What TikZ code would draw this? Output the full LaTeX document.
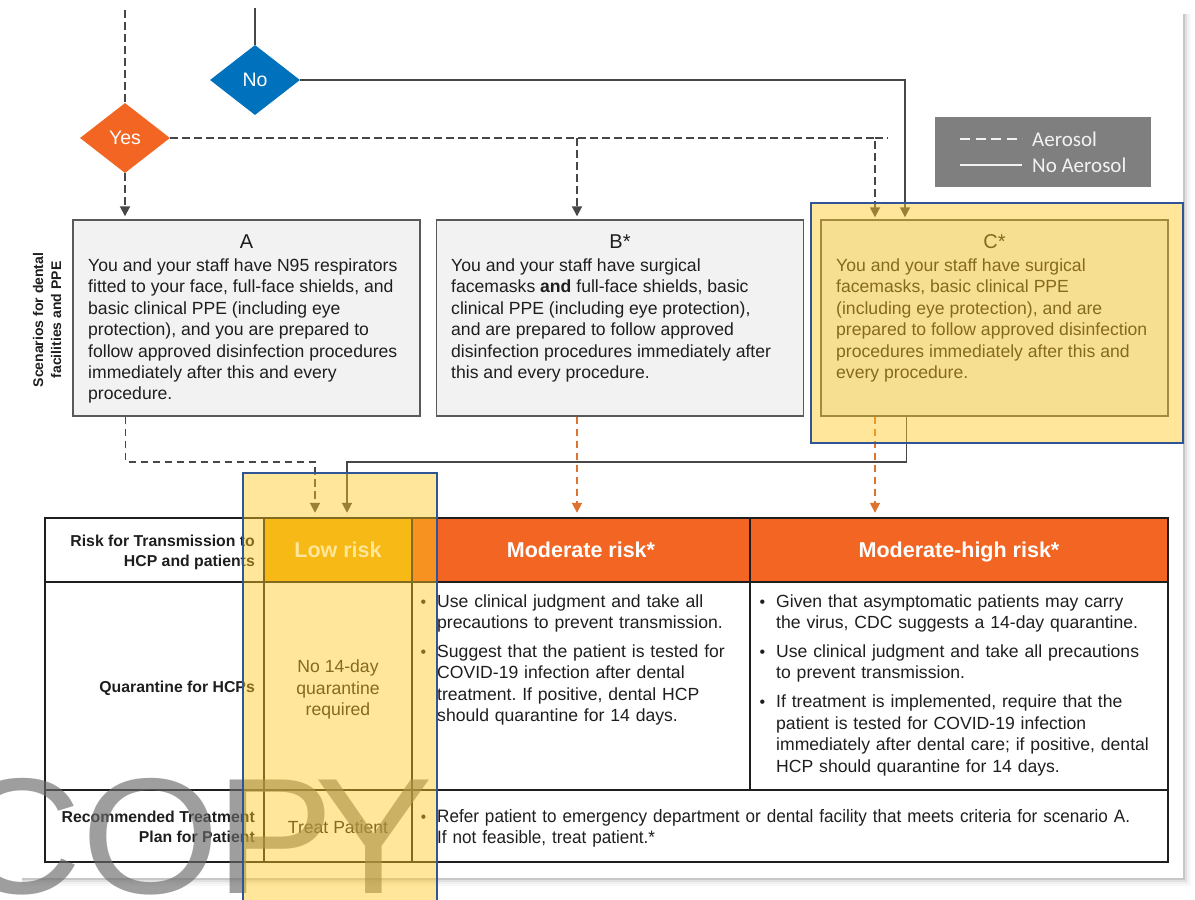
\documentclass[tikz,border=0pt]{standalone}
\usepackage{fontspec}
\setmainfont{Liberation Sans}
\newfontfamily\legendfont{Carlito}
\newfontfamily\narrowsans[FakeStretch=0.95]{Liberation Sans}
\newfontfamily\markfont[FakeStretch=1.08]{Liberation Sans}
\usetikzlibrary{arrows.meta,shapes.geometric}
\frenchspacing
\definecolor{dntInk}{HTML}{1E1E1E}
\definecolor{dntLine}{HTML}{474747}
\definecolor{dntGray}{HTML}{595959}
\definecolor{dntPale}{HTML}{F2F2F2}
\definecolor{dntOrange}{HTML}{F26522}
\definecolor{dntBlue}{HTML}{0071BC}
\definecolor{dntGold}{HTML}{EFAE10}
\definecolor{dntRust}{HTML}{DC7430}
\definecolor{dntKey}{HTML}{7F7F7F}
\definecolor{dntMark}{HTML}{6A6A6A}
\definecolor{dntHilite}{HTML}{FFC81E}
\definecolor{dntFrame}{HTML}{2F5597}
\newcommand{\bodysize}{\fontsize{17.6pt}{21.4pt}\selectfont}
\newcommand{\labelsize}{\fontsize{15.8pt}{20pt}\selectfont\bfseries}
\newcommand{\headsize}{\fontsize{21.5pt}{26pt}\selectfont\bfseries}
\newcommand{\riskitem}[1]{\par\noindent\llap{{\fontsize{16pt}{16pt}\selectfont\textbullet}\hspace{11pt}}#1\par}
\tikzset{
  dnt aero/.style={draw=dntLine, line width=1.8pt, dash pattern=on 7.5pt off 4.5pt},
  dnt plain/.style={draw=dntLine, line width=1.8pt},
  dnt rust/.style={draw=dntRust, line width=1.8pt, dash pattern=on 7.5pt off 4.5pt},
  dnt tip/.style={-{Triangle[width=10pt,length=10pt]}},
  dnt yes/.style={diamond, fill=dntOrange, minimum width=90pt, minimum height=70pt, inner sep=0pt, text=white, font=\fontsize{19.5pt}{22pt}\selectfont},
  dnt no/.style={dnt yes, fill=dntBlue},
  dnt box/.style={rectangle, draw=dntGray, line width=1.4pt, fill=dntPale, minimum width=347pt, minimum height=196pt, inner sep=0pt},
  dnt title/.style={anchor=base, inner sep=0pt, text=dntInk, font=\fontsize{20pt}{24pt}\selectfont},
  dnt body/.style={anchor=north west, inner sep=0pt, align=left, text=dntInk, font=\bodysize},
  dnt list/.style={anchor=north west, inner sep=0pt, align=left, text=dntInk, font=\bodysize},
  dnt head/.style={rectangle, minimum height=64pt, inner sep=0pt, text=white, font=\headsize, text height=15.5pt, text depth=0pt},
  dnt label/.style={inner sep=0pt, align=right, text=dntInk, font=\labelsize},
  dnt cell/.style={inner sep=0pt, align=center, text=dntInk, font=\bodysize},
  dnt grid/.style={draw=dntInk, line width=1.5pt},
  dnt key/.style={rectangle, fill=dntKey, minimum width=216pt, minimum height=70pt, inner sep=0pt},
  dnt key line/.style={draw=dntPale, line width=1.5pt},
  dnt key text/.style={anchor=base west, inner sep=0pt, text=dntPale, font=\legendfont\fontsize{21pt}{24pt}\selectfont},
  dnt side/.style={inner sep=0pt, align=center, text=dntInk, font=\fontsize{14pt}{18pt}\selectfont\bfseries},
  dnt watermark/.style={anchor=base west, inner sep=0pt, text=dntMark, text opacity=0.65, font=\markfont\fontsize{165pt}{165pt}\selectfont},
  dnt hilite/.style={fill=dntHilite, fill opacity=0.45},
  dnt frame/.style={draw=dntFrame, line width=2pt},
}

\begin{document}
\begin{tikzpicture}[x=1pt,y=-1pt]
  \useasboundingbox (0,0) rectangle (1195,900);
  % page shadow
  \foreach \d/\o in {1/0.22,3/0.12,5/0.06,7/0.03}
    \draw[black, opacity=\o, line width=2pt] (22,878+\d) -- (1183+\d,878+\d) -- (1183+\d,14);

  % decisions
  \node[dnt yes] (yes) at (125,138) {Yes};
  \node[dnt no] (no) at (255,80) {No};
  \coordinate (yesin) at (125,10);
  \coordinate (noin) at (255,8);

  % scenario boxes
  \node[dnt box] (boxA) at (246.5,318) {};
  \node[dnt box, minimum width=367pt] (boxB) at (620,318) {};
  \node[dnt box] (boxC) at (994.5,318) {};
  \node[dnt title] (titleA) at (246.5,248) {A};
  \node[dnt title] (titleB) at (620,248) {B*};
  \node[dnt title] (titleC) at (994.5,248) {C*};
  \node[dnt body] (textA) at (88,258.5) {You and your staff have N95 respirators\\
    fitted to your face, full-face shields, and\\basic clinical PPE (including eye\\
    protection), and you are prepared to\\follow approved disinfection procedures\\
    immediately after this and every\\procedure.};
  \node[dnt body] (textB) at (451,258.5) {You and your staff have surgical\\
    facemasks \textbf{and} full-face shields, basic\\clinical PPE (including eye protection),\\
    and are prepared to follow approved\\disinfection procedures immediately after\\
    this and every procedure.};
  \node[dnt body] (textC) at (836,258.5) {You and your staff have surgical\\
    facemasks, basic clinical PPE\\(including eye protection), and are\\
    prepared to follow approved disinfection\\procedures immediately after this and\\
    every procedure.};
  \node[dnt side, rotate=90] (scenLabel) at (47,320) {Scenarios for dental\\facilities and PPE};

  % legend
  \node[dnt key] (legend) at (1043,152) {};
  \draw[dnt key line, dash pattern=on 10pt off 5.5pt] (960,139) -- (1022,139);
  \draw[dnt key line] (960,165) -- (1022,165);
  \node[dnt key text] (keyAero) at (1032,146) {Aerosol};
  \node[dnt key text] (keyPlain) at (1032,172) {No Aerosol};

  % table
  \node[dnt head, fill=dntGold, minimum width=148pt] (hdrLow) at (338,550) {Low risk};
  \node[dnt head, fill=dntOrange, minimum width=338pt] (hdrMod) at (581,550) {Moderate risk*};
  \node[dnt head, fill=dntOrange, minimum width=418pt] (hdrHigh) at (959,550) {Moderate-high risk*};
  \draw[dnt grid] (45,518) rectangle (1168,862);
  \draw[dnt grid] (45,582) -- (1168,582) (45,790) -- (1168,790);
  \draw[dnt grid] (264,518) -- (264,862) (412,518) -- (412,862) (750,518) -- (750,790);

  \node[dnt label, anchor=north east] (rowRisk) at (255,535.3) {Risk for Transmission to\\HCP and patients};
  \node[dnt label, anchor=base east] (rowQuar) at (255,692.7) {Quarantine for HCPs};
  \node[dnt label, anchor=north east, font=\fontsize{15.8pt}{19.5pt}\selectfont\bfseries] (rowPlan) at (255,811.3) {Recommended Treatment\\Plan for Patient};
  \node[dnt cell, anchor=north] (lowQuar) at (338,659.7) {No 14-day\\quarantine\\required};
  \node[dnt cell, anchor=base] (lowPlan) at (338,833.3) {Treat Patient};
  \node[dnt list, text width=320pt] (modQuar) at (437,585.5) {%
    \riskitem{Use clinical judgment and take all\\precautions to prevent transmission.}
    \vspace{7.6pt}
    \riskitem{Suggest that the patient is tested for\\COVID-19 infection after dental\\
      treatment. If positive, dental HCP\\should quarantine for 14 days.}};
  \node[dnt list, text width=400pt] (highQuar) at (776,585.5) {%
    \riskitem{Given that asymptomatic patients may carry\\the virus, CDC suggests a 14-day quarantine.}
    \vspace{7.6pt}
    \riskitem{Use clinical judgment and take all precautions\\to prevent transmission.}
    \vspace{7.6pt}
    \riskitem{If treatment is implemented, require that the\\patient is tested for COVID-19 infection\\
      immediately after dental care; if positive, dental\\HCP should quarantine for 14 days.}};
  \node[dnt list, text width=720pt, font=\narrowsans\fontsize{18pt}{21pt}\selectfont] (planRefer) at (437,801) {%
    \riskitem{Refer patient to emergency department or dental facility that meets criteria for scenario A.\\
      If not feasible, treat patient.*}};

  % connectors
  \draw[dnt aero] (yesin) -- (yes.north);
  \draw[dnt plain] (noin) -- (no.north);
  \draw[dnt aero, dnt tip, shorten >=3pt] (yes.south) -- (yes.south |- boxA.north);
  \coordinate (forkB) at ([xshift=-43pt]boxB.north);
  \coordinate (forkC) at ([xshift=-119.5pt]boxC.north);
  \draw[dnt aero, dnt tip, shorten >=2pt] (yes.east) -| (forkC);
  \draw[dnt aero] (yes.east -| forkC) -- ++(13,0);
  \draw[dnt aero, dnt tip, shorten >=3pt] (yes.east -| forkB) -- (forkB);
  \draw[dnt plain, dnt tip, shorten >=2pt] (no.east) -| ([xshift=-89.5pt]boxC.north);
  \coordinate (lowA) at ([xshift=-23pt]hdrLow.north);
  \coordinate (lowC) at ([xshift=9pt]hdrLow.north);
  \draw[dnt aero, dnt tip, shorten >=5pt] ([xshift=-121pt]boxA.south) -- ++(0,45) -| (lowA);
  \draw[dnt plain, dnt tip, shorten >=5pt] ([xshift=-88pt]boxC.south) -- ++(0,45) -| (lowC);
  \draw[dnt rust, dnt tip, shorten >=5pt] ([xshift=-43pt]boxB.south) -- ([xshift=-43pt]boxB.south |- hdrMod.north);
  \draw[dnt rust, dnt tip, shorten >=5pt] ([xshift=-119.5pt]boxC.south) -- ([xshift=-119.5pt]boxC.south |- hdrHigh.north);

  % watermark and highlights
  \node[dnt watermark] (copyMark) at (-47,893) {CO\kern-5pt P\kern-20pt Y};
  \fill[dnt hilite] (243,473) rectangle (437,905);
  \draw[dnt frame] (243,905) -- (243,473) -- (437,473) -- (437,905);
  \fill[dnt hilite] (811,203) rectangle (1183,443);
  \draw[dnt frame] (811,203) rectangle (1183,443);
\end{tikzpicture}
\end{document}
